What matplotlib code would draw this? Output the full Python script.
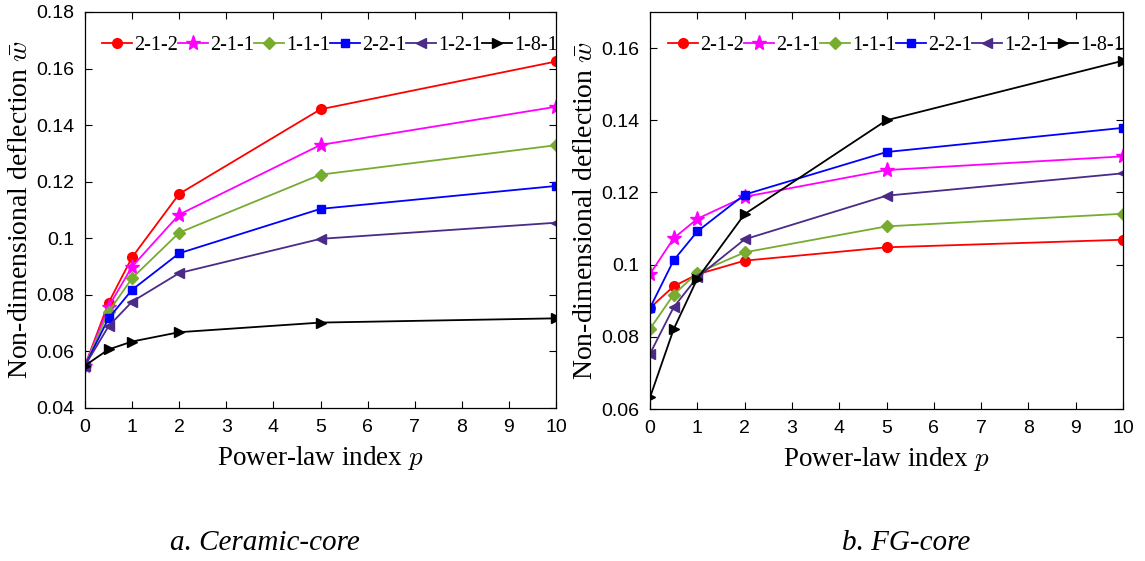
import numpy as np
import matplotlib
matplotlib.use("Agg")
import matplotlib.pyplot as plt

# power-law index values
p = [0, 0.5, 1, 2, 5, 10]
labels = ["2-1-2", "2-1-1", "1-1-1", "2-2-1", "1-2-1", "1-8-1"]

# a. Ceramic-core
ceramic_212 = [0.055, 0.0772, 0.0933, 0.1157, 0.1456, 0.1625]
ceramic_211 = [0.055, 0.0758, 0.0900, 0.1084, 0.1330, 0.1465]
ceramic_111 = [0.055, 0.0740, 0.0859, 0.1020, 0.1225, 0.1329]
ceramic_221 = [0.055, 0.0717, 0.0818, 0.0947, 0.1104, 0.1185]
ceramic_121 = [0.055, 0.0689, 0.0776, 0.0877, 0.0998, 0.1055]
ceramic_181 = [0.055, 0.0607, 0.0635, 0.0668, 0.0702, 0.0717]

# b. FG-core
fg_212 = [0.0880, 0.0940, 0.0973, 0.1011, 0.1048, 0.1069]
fg_211 = [0.0974, 0.1073, 0.1127, 0.1188, 0.1262, 0.1300]
fg_111 = [0.0822, 0.0917, 0.0977, 0.1034, 0.1106, 0.1141]
fg_221 = [0.0880, 0.1012, 0.1092, 0.1194, 0.1312, 0.1379]
fg_121 = [0.0753, 0.0882, 0.0965, 0.1070, 0.1191, 0.1253]
fg_181 = [0.0632, 0.0821, 0.0961, 0.1140, 0.1400, 0.1565]

colors = ["#ff0000", "#ff00ff", "#77ac30", "#0000ff", "#4b2a88", "#000000"]
markers = ["o", "*", "D", "s", "<", ">"]
msizes = [7, 11, 6, 6, 7, 7]

plt.rcParams["mathtext.fontset"] = "cm"
serif = "Liberation Serif"
sans = "Liberation Sans"

fig = plt.figure(figsize=(11.45, 5.61), dpi=100)
ax1 = fig.add_axes([85 / 1145, 1 - 408 / 561, 471 / 1145, 396 / 561])
ax2 = fig.add_axes([650 / 1145, 1 - 409 / 561, 473 / 1145, 397 / 561])


def draw(ax, series, ylim, yticks, ylabels):
    for ys, c, m, ms, lab in zip(series, colors, markers, msizes, labels):
        ax.plot(p, ys, color=c, marker=m, markersize=ms, linewidth=1.3,
                markerfacecolor=c, markeredgecolor=c, label=lab)
    ax.set_xlim(0, 10)
    ax.set_ylim(*ylim)
    ax.set_xticks(range(11))
    ax.set_yticks(yticks)
    ax.set_yticklabels(ylabels)
    ax.tick_params(direction="in", top=True, right=True, length=5,
                   labelsize=14, pad=8)
    for t in ax.get_xticklabels() + ax.get_yticklabels():
        t.set_fontfamily(sans)
    for s in ax.spines.values():
        s.set_linewidth(0.9)
    ax.set_xlabel("Power-law index $p$", fontfamily=serif, fontsize=19.5,
                  labelpad=6)
    ax.set_ylabel(r"Non-dimensional deflection $\bar{w}$", fontfamily=serif,
                  fontsize=20, labelpad=2)
    ax.legend(loc="upper center", ncol=6, frameon=False,
              prop={"family": serif, "size": 14.5}, handlelength=1.5,
              handletextpad=0.1, columnspacing=0.0,
              bbox_to_anchor=(0.52, 0.975), borderaxespad=0.3)


draw(ax1, [ceramic_212, ceramic_211, ceramic_111, ceramic_221, ceramic_121, ceramic_181],
     (0.04, 0.18), np.arange(0.04, 0.181, 0.02),
     ["0.04", "0.06", "0.08", "0.1", "0.12", "0.14", "0.16", "0.18"])
draw(ax2, [fg_212, fg_211, fg_111, fg_221, fg_121, fg_181],
     (0.06, 0.17), np.arange(0.06, 0.161, 0.02),
     ["0.06", "0.08", "0.1", "0.12", "0.14", "0.16"])

fig.text(265 / 1145, 1 - 543 / 561, "a. Ceramic-core", fontfamily=serif,
         style="italic", fontsize=21, ha="center", va="center")
fig.text(906 / 1145, 1 - 543 / 561, "b. FG-core", fontfamily=serif,
         style="italic", fontsize=21, ha="center", va="center")

fig.savefig("out.png", dpi=100)
